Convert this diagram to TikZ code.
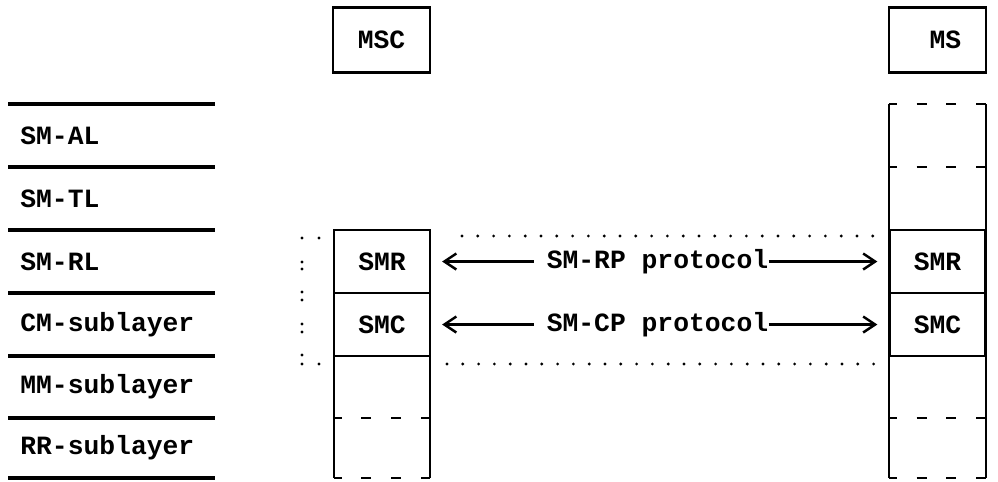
\documentclass[tikz,border=0pt]{standalone}
\usepackage{fontspec}
\setmonofont{Liberation Mono}
\usetikzlibrary{arrows.meta}
\tikzset{>={Straight Barb[length=2.4mm,width=3.2mm]}}
\tikzset{
  layerline/.style={line width=1.8pt},
  frameline/.style={line width=1.3pt},
  solidsep/.style={line width=1.8pt},
  dashsep/.style={line width=1.6pt,dash pattern=on 2mm off 4mm,dash phase=0.5mm},
  topbox/.style={draw,line width=1.3pt,minimum width=1.94cm,minimum height=1.3cm,inner sep=0pt,font=\fontsize{15}{18}\ttfamily\bfseries},
  cell/.style={draw,line width=1.3pt,minimum width=1.92cm,minimum height=1.26cm,inner sep=0pt,font=\fontsize{15}{18}\ttfamily\bfseries},
  lbl/.style={anchor=west,inner sep=0pt,font=\fontsize{15}{18}\ttfamily\bfseries},
  ptext/.style={inner sep=0pt,font=\fontsize{15}{18}\ttfamily\bfseries},
  proto/.style={->,line width=1.4pt}
}

\begin{document}
\begin{tikzpicture}[x=0.02cm,y=-0.02cm]
\useasboundingbox (0,0) rectangle (998,481);
% layers on the left
\foreach \y in {104,167,230,293,356,418,478}
    \draw[layerline] (8,\y) -- (215,\y);
\node[lbl] (al) at (20,135.5) {SM-AL};
\node[lbl] (tl) at (20,198.5) {SM-TL};
\node[lbl] (rl) at (20,261.5) {SM-RL};
\node[lbl] (cm) at (20,324.5) {CM-sublayer};
\node[lbl] (mm) at (20,387) {MM-sublayer};
\node[lbl] (rr) at (20,448) {RR-sublayer};
% the two entities
\node[topbox] (msc) at (381.5,40) {MSC};
\node[topbox] (ms) at (937.5,40) {\phantom{M}MS};
% MSC column
\draw[frameline] (334,230) -- (334,478);
\draw[frameline] (430,230) -- (430,478);
\node[cell] (smrL) at (382,261.5) {SMR};
\node[cell] (smcL) at (382,324.5) {SMC};
\draw[dashsep] (334,418) -- (430,418);
\draw[dashsep] (334,478) -- (430,478);
% MS column
\draw[frameline] (889,104) -- (889,478);
\draw[frameline] (986,104) -- (986,478);
\draw[dashsep] (889,104) -- (986,104);
\draw[dashsep] (889,167) -- (986,167);
\node[cell] (smrR) at (937.5,261.5) {SMR};
\node[cell] (smcR) at (937.5,324.5) {SMC};
\draw[dashsep] (889,418) -- (986,418);
\draw[dashsep] (889,478) -- (986,478);
% peer protocols
\node[ptext] (rp) at (657.5,261.5) {SM-RP protocol};
\node[ptext] (cp) at (657.5,324.5) {SM-CP protocol};
\draw[proto,shorten <=2.5mm,shorten >=2.2mm] (rp.west) -- (smrL.east);
\draw[proto,shorten >=2.2mm] (rp.east) -- (smrR.west);
\draw[proto,shorten <=2.5mm,shorten >=2.2mm] (cp.west) -- (smcL.east);
\draw[proto,shorten >=2.2mm] (cp.east) -- (smcR.west);
% dotted bracket
\foreach \y in {238,262,269,292,300,324,332,355,364}
    \fill (302,\y) circle (0.9pt);
\fill (319,238) circle (0.9pt);
\fill (319,364) circle (0.9pt);
\foreach \i in {0,...,26}
    \fill ({462+\i*15.8},236) circle (0.9pt);
\foreach \i in {0,...,27}
    \fill ({447+\i*15.8},364) circle (0.9pt);
\end{tikzpicture}
\end{document}
